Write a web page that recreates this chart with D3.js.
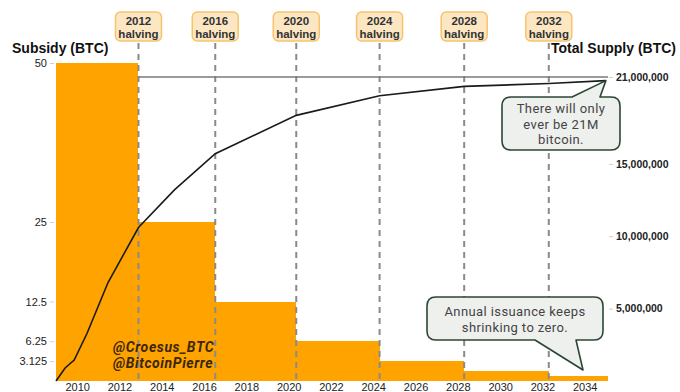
<!DOCTYPE html>
<html>
<head>
<meta charset="utf-8">
<script src="https://cdn.jsdelivr.net/npm/d3@7"></script>
<style>
	body { margin: 0; background: #fff; }
	svg { display: block; }
</style>
</head>
<body>
<script>
// halving dates and block subsidy per era
var halvingYears = [2012.9, 2016.53, 2020.36, 2024.3, 2028.3, 2032.3],
	halvingLabels = ['2012', '2016', '2020', '2024', '2028', '2032'],
	eraStart = [2009, 2012.9, 2016.53, 2020.36, 2024.3, 2028.3, 2032.3],
	eraEnd = [2012.9, 2016.53, 2020.36, 2024.3, 2028.3, 2032.3, 2035.1],
	subsidy = [50, 25, 12.5, 6.25, 3.125, 1.5625, 0.78125];

// total supply curve
var supplyYears = [2009, 2009.43, 2009.86, 2010.47, 2011.46, 2012.9, 2014.6, 2016.53, 2020.36, 2024.3, 2028.3, 2032.3, 2035.0],
	supply = [0, 0.9e6, 1.45e6, 3.3e6, 6.8e6, 10.6e6, 13.2e6, 15.7e6, 18.35e6, 19.7e6, 20.35e6, 20.55e6, 20.75e6];

var yearTicks = [2010, 2012, 2014, 2016, 2018, 2020, 2022, 2024, 2026, 2028, 2030, 2032, 2034],
	subsidyTicks = [3.125, 6.25, 12.5, 25, 50],
	supplyTicks = [5e6, 10e6, 15e6, 21e6],
	maxSupply = 21e6;

var width = 680,
	height = 392,
	orange = '#ffa300',
	axisFont = '"Liberation Sans", Arial, sans-serif',
	noteFont = 'Roboto, sans-serif';

var svg = d3.select('body').append('svg')
	.attr('width', width)
	.attr('height', height);

var x = d3.scaleLinear().domain([2009, 2035.1]).range([56, 608]),
	yL = d3.scaleLinear().domain([0, 50]).range([381, 63]),
	yR = d3.scaleLinear().domain([0, maxSupply]).range([381, 77]);

// subsidy bars
svg.append('g').selectAll('rect')
	.data(subsidy)
	.enter().append('rect')
	.attr('x', function(d, i) { return x(eraStart[i]); })
	.attr('width', function(d, i) { return x(eraEnd[i]) - x(eraStart[i]); })
	.attr('y', function(d) { return yL(d); })
	.attr('height', function(d) { return yL(0) - yL(d); })
	.attr('fill', orange)
	.attr('shape-rendering', 'crispEdges');

// halving dashed lines
svg.append('g').selectAll('line')
	.data(halvingYears)
	.enter().append('line')
	.attr('x1', function(d) { return x(d); })
	.attr('x2', function(d) { return x(d); })
	.attr('y1', 43)
	.attr('y2', yL(0))
	.attr('stroke', '#8a8a8a')
	.attr('stroke-width', 2)
	.attr('stroke-dasharray', '6,5');

// 21M cap line
svg.append('line')
	.attr('x1', x(halvingYears[0]))
	.attr('x2', x(2035.1))
	.attr('y1', yR(maxSupply))
	.attr('y2', yR(maxSupply))
	.attr('stroke', '#7a7a7a')
	.attr('stroke-width', 1.3);

// supply curve
var line = d3.line()
	.x(function(d, i) { return x(supplyYears[i]); })
	.y(function(d) { return yR(d); });

svg.append('path')
	.datum(supply)
	.attr('d', line)
	.attr('fill', 'none')
	.attr('stroke', '#1a1a1a')
	.attr('stroke-width', 1.6);

// left axis
var left = svg.append('g')
	.attr('transform', 'translate(54,0)')
	.call(d3.axisLeft(yL).tickValues(subsidyTicks).tickSize(4).tickPadding(3)
		.tickFormat(function(d) { return String(d); }));

// right axis
var right = svg.append('g')
	.attr('transform', 'translate(609,0)')
	.call(d3.axisRight(yR).tickValues(supplyTicks).tickSize(4).tickPadding(3)
		.tickFormat(d3.format(',')));

// bottom axis
var bottom = svg.append('g')
	.attr('transform', 'translate(0,' + yL(0) + ')')
	.call(d3.axisBottom(x).tickValues(yearTicks).tickSize(0).tickPadding(2)
		.tickFormat(d3.format('d')));

[left, right, bottom].forEach(function(g) {
	g.select('.domain').remove();
	g.selectAll('.tick line').attr('stroke', '#cfcfcf');
	g.selectAll('.tick text')
		.attr('fill', '#222')
		.attr('font-family', axisFont)
		.attr('font-size', 11);
});
right.selectAll('.tick text').attr('font-weight', 'bold').attr('font-size', 10.5);

// axis titles
svg.append('text')
	.text('Subsidy (BTC)')
	.attr('x', 12)
	.attr('y', 53)
	.attr('font-family', axisFont)
	.attr('font-weight', 'bold')
	.attr('font-size', 14)
	.attr('fill', '#111');

svg.append('text')
	.text('Total Supply (BTC)')
	.attr('x', 676)
	.attr('y', 53)
	.attr('text-anchor', 'end')
	.attr('font-family', axisFont)
	.attr('font-weight', 'bold')
	.attr('font-size', 14)
	.attr('fill', '#111');

// halving labels
var tags = svg.append('g').selectAll('g')
	.data(halvingYears)
	.enter().append('g')
	.attr('transform', function(d) { return 'translate(' + x(d) + ',0)'; });

tags.append('rect')
	.attr('x', -23)
	.attr('y', 12)
	.attr('width', 46)
	.attr('height', 29)
	.attr('rx', 5)
	.attr('fill', '#fde7c3')
	.attr('stroke', '#f6c46c')
	.attr('stroke-width', 1.5);

tags.append('text')
	.text(function(d, i) { return halvingLabels[i]; })
	.attr('y', 24.5)
	.attr('text-anchor', 'middle')
	.attr('font-family', axisFont)
	.attr('font-weight', 'bold')
	.attr('font-size', 11.5)
	.attr('fill', '#333');

tags.append('text')
	.text('halving')
	.attr('y', 37.5)
	.attr('text-anchor', 'middle')
	.attr('font-family', axisFont)
	.attr('font-weight', 'bold')
	.attr('font-size', 11.5)
	.attr('fill', '#333');

// watermark
['@Croesus_BTC', '@BitcoinPierre'].forEach(function(t, i) {
	svg.append('text')
		.text(t)
		.attr('x', 113)
		.attr('y', 351.5 + i * 16.5)
		.attr('font-family', noteFont)
		.attr('font-weight', 'bold')
		.attr('font-style', 'italic')
		.attr('font-size', 14)
		.attr('letter-spacing', 0.6)
		.attr('fill', '#3a2708');
});

// speech bubble callouts
function bubble(box, tail, tip, onTop) {
	var l = box[0], t = box[1], r = box[2], b = box[3], k = 9,
		p = d3.path();
	p.moveTo(l + k, t);
	if (onTop) {
		p.lineTo(tail[0], t);
		p.lineTo(tip[0], tip[1]);
		p.lineTo(tail[1], t);
	}
	p.lineTo(r - k, t);
	p.quadraticCurveTo(r, t, r, t + k);
	p.lineTo(r, b - k);
	p.quadraticCurveTo(r, b, r - k, b);
	if (!onTop) {
		p.lineTo(tail[1], b);
		p.lineTo(tip[0], tip[1]);
		p.lineTo(tail[0], b);
	}
	p.lineTo(l + k, b);
	p.quadraticCurveTo(l, b, l, b - k);
	p.lineTo(l, t + k);
	p.quadraticCurveTo(l, t, l + k, t);
	p.closePath();
	svg.append('path')
		.attr('d', p.toString())
		.attr('fill', '#eef0ee')
		.attr('stroke', '#2c4634')
		.attr('stroke-width', 1.6)
		.attr('stroke-linejoin', 'round');
}

function note(lines, cx, top) {
	lines.forEach(function(t, i) {
		svg.append('text')
			.text(t)
			.attr('x', cx)
			.attr('y', top + i * 15.5)
			.attr('text-anchor', 'middle')
			.attr('font-family', noteFont)
			.attr('font-size', 13)
			.attr('letter-spacing', 0.4)
			.attr('fill', '#444');
	});
}

bubble([502, 97, 620, 150], [572, 600], [x(2035), yR(20.75e6)], true);
note(['There will only', 'ever be 21M', 'bitcoin.'], 561, 113);

bubble([427, 297, 603, 340], [535, 576], [583, 370], false);
note(['Annual issuance keeps', 'shrinking to zero.'], 515, 316);
</script>
</body>
</html>
